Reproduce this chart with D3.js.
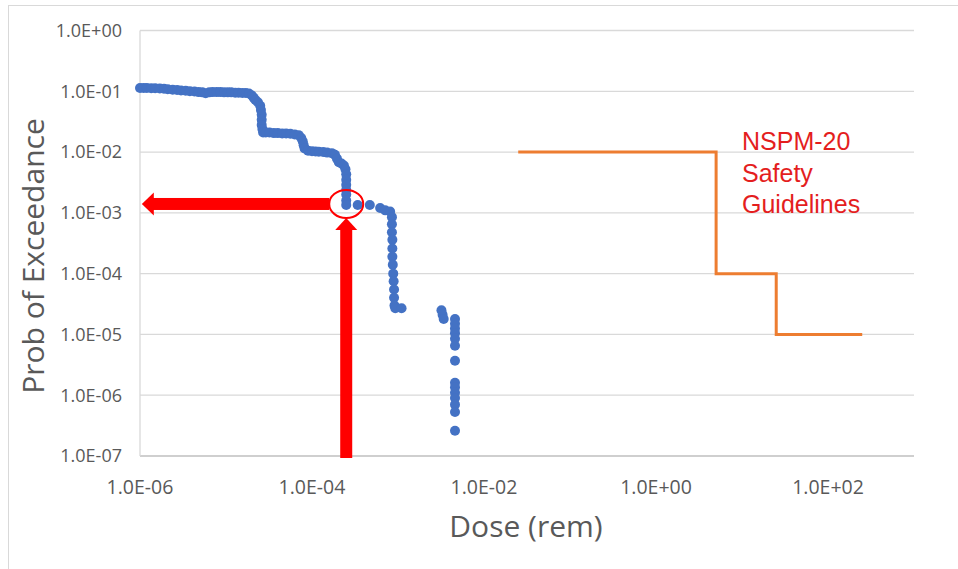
<!DOCTYPE html>
<meta charset="utf-8">
<title>Prob of Exceedance vs Dose</title>
<style>
body {
  margin: 0px;
  background: #fff;
}
text {
  font-family: "Open Sans", sans-serif;
}
.grid line {
  stroke: #d9d9d9;
  stroke-width: 1.3;
}
.tick-label {
  fill: #595959;
}
.axis-title {
  fill: #595959;
  font-size: 30px;
}
.note {
  fill: #e41e1e;
  font-family: "Liberation Sans", Arial, sans-serif;
  font-size: 25px;
}
</style>
<body>
<svg id="chart" width="958" height="569"></svg>
</body>
<script src="https://cdn.jsdelivr.net/npm/d3@7"></script>
<script>

// Simulated dose results (rem) and exceedance probability
var doseValues = [
  1.0e-6, 1.1e-6, 1.2e-6, 1.35e-6, 1.5e-6, 1.7e-6, 1.9e-6, 2.1e-6, 2.4e-6, 2.7e-6,
  3.0e-6, 3.4e-6, 3.8e-6, 4.3e-6, 4.8e-6, 5.3e-6, 5.8e-6, 6.4e-6, 7.0e-6, 7.8e-6,
  8.6e-6, 9.5e-6, 1.05e-5, 1.15e-5, 1.28e-5, 1.4e-5, 1.55e-5, 1.7e-5, 1.85e-5, 2.0e-5,
  2.1e-5, 2.2e-5, 2.35e-5, 2.5e-5, 2.55e-5, 2.6e-5, 2.6e-5, 2.6e-5, 2.65e-5, 2.7e-5,
  2.9e-5, 3.2e-5, 3.6e-5, 4.0e-5, 4.5e-5, 5.0e-5, 5.6e-5, 6.3e-5, 7.0e-5, 7.5e-5,
  7.8e-5, 8.0e-5, 8.2e-5,
  9.0e-5, 1.0e-4, 1.1e-4, 1.2e-4, 1.35e-4, 1.5e-4, 1.7e-4, 1.85e-4, 1.95e-4, 2.05e-4,
  2.2e-4, 2.35e-4, 2.45e-4, 2.5e-4, 2.5e-4, 2.5e-4, 2.5e-4, 2.5e-4, 2.5e-4, 2.5e-4,
  3.4e-4, 4.7e-4, 6.2e-4, 7.1e-4, 8.1e-4, 8.5e-4, 8.5e-4, 8.5e-4, 8.6e-4, 8.6e-4,
  8.6e-4, 8.7e-4, 8.8e-4, 8.9e-4, 9.0e-4, 9.0e-4, 9.1e-4, 9.3e-4, 1.1e-3,
  3.2e-3, 3.3e-3, 3.4e-3, 4.6e-3, 4.6e-3, 4.6e-3, 4.6e-3, 4.6e-3, 4.6e-3, 4.6e-3,
  4.6e-3, 4.6e-3, 4.6e-3, 4.6e-3, 4.6e-3, 4.6e-3, 4.6e-3
];
var probValues = [
  0.113, 0.113, 0.113, 0.112, 0.112, 0.111, 0.110, 0.108, 0.106, 0.105,
  0.103, 0.102, 0.100, 0.099, 0.097, 0.096, 0.093, 0.096, 0.097, 0.097,
  0.097, 0.096, 0.096, 0.096, 0.095, 0.095, 0.094, 0.094, 0.092, 0.085,
  0.078, 0.072, 0.066, 0.058, 0.049, 0.041, 0.034, 0.028, 0.024, 0.021,
  0.021, 0.021, 0.0205, 0.0205, 0.0203, 0.0202, 0.0200, 0.0195, 0.019, 0.017,
  0.015, 0.013, 0.0115,
  0.0105, 0.0103, 0.0102, 0.0101, 0.0100, 0.0098, 0.0096, 0.0090, 0.0078, 0.0068,
  0.0065, 0.0060, 0.0052, 0.0043, 0.0035, 0.0029, 0.0024, 0.0020, 0.0016, 0.00135,
  0.00135, 0.00135, 0.0012, 0.0011, 0.00105, 0.00085, 0.00065, 0.00048, 0.00036, 0.00026,
  0.00019, 0.00014, 0.0001, 0.000075, 0.000055, 0.00004, 0.00003, 0.000027, 0.000027,
  2.5e-5, 2.1e-5, 1.8e-5, 1.8e-5, 1.5e-5, 1.25e-5, 1.05e-5, 8.5e-6, 6.5e-6, 3.7e-6,
  1.6e-6, 1.35e-6, 1.1e-6, 9e-7, 7e-7, 5.3e-7, 2.6e-7
];

// NSPM-20 safety guideline step line
var guideDose = [0.025, 5, 5, 25, 25, 250];
var guideProb = [1e-2, 1e-2, 1e-4, 1e-4, 1e-5, 1e-5];

// Highlighted result (arrows + circle)
var markDose = 2.5e-4,
    markProb = 1.4e-3;

var xTickValues = [1e-6, 1e-4, 1e-2, 1e0, 1e2];
var yTickValues = [1e-7, 1e-6, 1e-5, 1e-4, 1e-3, 1e-2, 1e-1, 1e0];
var noteLines = ["NSPM-20", "Safety", "Guidelines"];

var svg = d3.select("#chart");

var x = d3.scaleLog().domain([1e-6, 1e3]).range([140, 914]),
    y = d3.scaleLog().domain([1e-7, 1]).range([456, 30.5]);

// format like 1.0E-06
function sci(v) {
  var e = Math.round(Math.log10(v));
  return "1.0E" + (e < 0 ? "-" : "+") + String(Math.abs(e)).padStart(2, "0");
}

// outer chart border
svg.append("rect")
  .attr("x", 8.5).attr("y", 5.5)
  .attr("width", 1000).attr("height", 1000)
  .attr("fill", "none")
  .attr("stroke", "#d9d9d9");

// horizontal gridlines
var grid = svg.append("g").attr("class", "grid");
grid.selectAll("line.h")
  .data(yTickValues)
  .enter().append("line")
  .attr("class", "h")
  .attr("x1", x.range()[0]).attr("x2", x.range()[1])
  .attr("y1", function(d) { return y(d); })
  .attr("y2", function(d) { return y(d); })
  .style("stroke", function(d) { return d === 1e-7 ? "#bfbfbf" : null; });
grid.append("line")
  .attr("x1", x.range()[0]).attr("x2", x.range()[0])
  .attr("y1", y.range()[1]).attr("y2", y.range()[0]);

// tick labels
svg.selectAll("text.ylab")
  .data(yTickValues)
  .enter().append("text")
  .attr("class", "ylab tick-label")
  .attr("x", 122)
  .attr("y", function(d) { return y(d); })
  .attr("dy", "0.35em")
  .attr("text-anchor", "end")
  .style("font-size", "18px")
  .text(sci);

svg.selectAll("text.xlab")
  .data(xTickValues)
  .enter().append("text")
  .attr("class", "xlab tick-label")
  .attr("x", function(d) { return x(d); })
  .attr("y", 494)
  .attr("text-anchor", "middle")
  .style("font-size", "19.5px")
  .text(sci);

// axis titles
svg.append("text")
  .attr("class", "axis-title")
  .attr("transform", "translate(44," + 256 + ") rotate(-90)")
  .attr("text-anchor", "middle")
  .text("Prob of Exceedance");

svg.append("text")
  .attr("class", "axis-title")
  .attr("x", 526)
  .attr("y", 537)
  .attr("text-anchor", "middle")
  .text("Dose (rem)");

// guideline step line
var line = d3.line()
  .x(function(d) { return x(d[0]); })
  .y(function(d) { return y(d[1]); });

svg.append("path")
  .datum(d3.zip(guideDose, guideProb))
  .attr("d", line)
  .attr("fill", "none")
  .attr("stroke", "#ed7d31")
  .attr("stroke-width", 3);

// dose points
svg.append("g")
  .selectAll("circle")
  .data(d3.zip(doseValues, probValues))
  .enter().append("circle")
  .attr("cx", function(d) { return x(d[0]); })
  .attr("cy", function(d) { return y(d[1]); })
  .attr("r", 5)
  .attr("fill", "#4472c4");

// red arrows pointing at the highlighted point
var mx = x(markDose), my = y(markProb),
    rx = 17, ry = 14;

var hTip = x(1.05e-6);
svg.append("rect")
  .attr("x", hTip + 11).attr("y", my - 6)
  .attr("width", mx - rx - hTip - 11).attr("height", 12)
  .attr("fill", "#ff0000");
svg.append("path")
  .attr("d", "M" + hTip + "," + my + "L" + (hTip + 12) + "," + (my - 11.5) +
             "L" + (hTip + 12) + "," + (my + 11.5) + "Z")
  .attr("fill", "#ff0000");

var vTip = my + ry;
svg.append("rect")
  .attr("x", mx - 6).attr("y", vTip + 11)
  .attr("width", 12).attr("height", y(1e-7) + 2 - vTip - 11)
  .attr("fill", "#ff0000");
svg.append("path")
  .attr("d", "M" + mx + "," + vTip + "L" + (mx - 11) + "," + (vTip + 12) +
             "L" + (mx + 11) + "," + (vTip + 12) + "Z")
  .attr("fill", "#ff0000");

svg.append("ellipse")
  .attr("cx", mx).attr("cy", my)
  .attr("rx", rx).attr("ry", ry)
  .attr("fill", "none")
  .attr("stroke", "#ff0000")
  .attr("stroke-width", 2);

// guideline label
svg.selectAll("text.note")
  .data(noteLines)
  .enter().append("text")
  .attr("class", "note")
  .attr("x", x(10))
  .attr("y", function(d, i) { return y(1e-2) - 2 + i * 31.5; })
  .text(function(d) { return d; });

</script>
